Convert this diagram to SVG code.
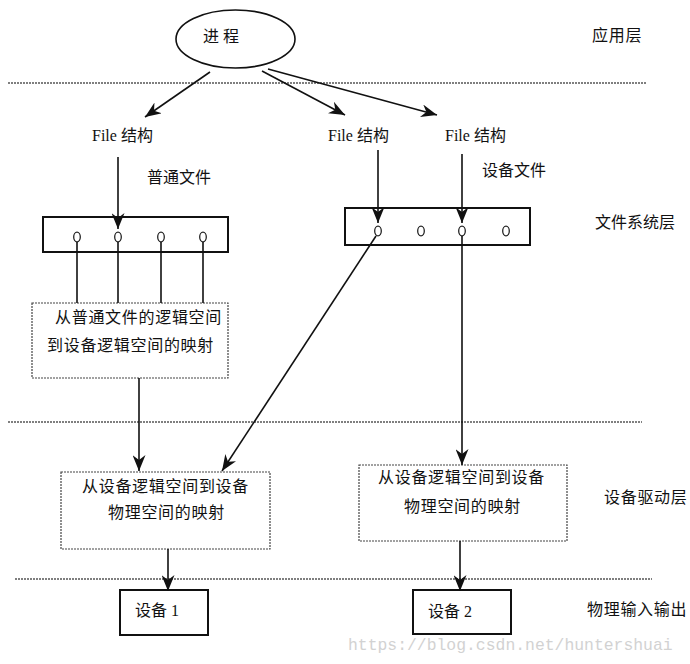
<svg xmlns="http://www.w3.org/2000/svg" width="690" height="664" viewBox="0 0 690 664">
<style>
.t{font-family:"Liberation Serif","Noto Sans CJK SC",serif;font-size:16px;fill:#111}
.bt{font-family:"Liberation Serif","Noto Sans CJK SC",serif;font-size:16px;fill:#111;letter-spacing:0.7px}
.sep{stroke:#555;stroke-width:1.5;stroke-dasharray:2 1;fill:none}
.solid{fill:#fff;stroke:#111;stroke-width:2}
.dot{fill:#fff;stroke:#444;stroke-width:1.2;stroke-dasharray:2 1}
.o{fill:none;stroke:#222;stroke-width:1.3}
.c{stroke:#111;stroke-width:1.6;fill:none}
.ca{stroke:#111;stroke-width:1.6;fill:none;marker-end:url(#ah)}
.wm{font-family:"Liberation Mono",monospace;font-size:16.4px;fill:#d2d2d2}
</style>
<defs>
<marker id="ah" viewBox="0 0 16 13" refX="16" refY="6.5" markerWidth="16" markerHeight="13" markerUnits="userSpaceOnUse" orient="auto">
<path d="M0,0 L16,6.5 L0,13 L5,6.5 z" fill="#111"/>
</marker>
</defs>
<rect width="690" height="664" fill="#fff"/>

<g id="separators">
<line class="sep" x1="8" y1="83" x2="647" y2="83"/>
<line class="sep" x1="8" y1="422" x2="642" y2="422"/>
<line class="sep" x1="15" y1="579" x2="652" y2="579"/>
</g>

<g id="layer-labels">
<text class="bt" x="592" y="41">应用层</text>
<text class="t" x="595" y="228">文件系统层</text>
<text class="bt" x="604" y="503">设备驱动层</text>
<text class="bt" x="587" y="615">物理输入输出</text>
</g>

<g id="process">
<ellipse cx="235.5" cy="39" rx="59.5" ry="29" fill="#fff" stroke="#111" stroke-width="1.6"/>
<text class="t" x="203" y="42">进 程</text>
</g>

<g id="file1"><text class="t" x="92" y="141">File 结构</text></g>
<g id="file2"><text class="t" x="328" y="141">File 结构</text></g>
<g id="file3"><text class="t" x="445" y="141">File 结构</text></g>
<g id="label-normal"><text class="t" x="147" y="183">普通文件</text></g>
<g id="label-device"><text class="t" x="482" y="176">设备文件</text></g>

<g id="table1">
<rect class="solid" x="43" y="217" width="185" height="35"/>
<ellipse class="o" cx="77" cy="237" rx="3.3" ry="4.8"/>
<ellipse class="o" cx="118" cy="237" rx="3.3" ry="4.8"/>
<ellipse class="o" cx="161" cy="237" rx="3.3" ry="4.8"/>
<ellipse class="o" cx="203" cy="237" rx="3.3" ry="4.8"/>
</g>

<g id="table2">
<rect class="solid" x="345" y="208" width="185" height="37"/>
<ellipse class="o" cx="378" cy="231" rx="3.3" ry="4.8"/>
<ellipse class="o" cx="421" cy="231" rx="3.3" ry="4.8"/>
<ellipse class="o" cx="462" cy="231" rx="3.3" ry="4.8"/>
<ellipse class="o" cx="506" cy="231" rx="3.3" ry="4.8"/>
</g>

<g id="map-normal">
<rect class="dot" x="32" y="303" width="196" height="75"/>
<text class="bt" x="55" y="323">从普通文件的逻辑空间</text>
<text class="bt" x="47" y="351">到设备逻辑空间的映射</text>
</g>

<g id="map-dev-left">
<rect class="dot" x="61" y="472" width="209" height="77"/>
<text class="bt" x="82" y="492">从设备逻辑空间到设备</text>
<text class="bt" x="108" y="518">物理空间的映射</text>
</g>

<g id="map-dev-right">
<rect class="dot" x="359" y="465" width="208" height="76"/>
<text class="bt" x="378" y="483">从设备逻辑空间到设备</text>
<text class="bt" x="404" y="512">物理空间的映射</text>
</g>

<g id="device1">
<rect class="solid" x="120" y="590" width="88" height="45"/>
<text class="t" x="135" y="616">设备 1</text>
</g>

<g id="device2">
<rect class="solid" x="413" y="590" width="98" height="44"/>
<text class="t" x="428" y="617">设备 2</text>
</g>

<g id="connectors">
<line class="ca" x1="210" y1="72" x2="145" y2="117"/>
<line class="ca" x1="262" y1="71" x2="345" y2="115"/>
<line class="ca" x1="268" y1="69" x2="437" y2="115"/>
<line class="ca" x1="118" y1="157" x2="118" y2="229"/>
<line class="ca" x1="378" y1="150" x2="378" y2="223"/>
<line class="ca" x1="462" y1="154" x2="462" y2="223"/>
<line class="c" x1="77" y1="242" x2="77" y2="303"/>
<line class="c" x1="118" y1="242" x2="118" y2="303"/>
<line class="c" x1="161" y1="242" x2="161" y2="303"/>
<line class="c" x1="203" y1="242" x2="203" y2="303"/>
<line class="ca" x1="139" y1="378" x2="139" y2="471"/>
<line class="ca" x1="376" y1="236" x2="222" y2="471"/>
<line class="ca" x1="462" y1="236" x2="462" y2="465"/>
<line class="ca" x1="168" y1="549" x2="168" y2="591"/>
<line class="ca" x1="460" y1="541" x2="460" y2="591"/>
</g>

<text class="wm" x="348" y="650">https://blog.csdn.net/huntershuai</text>
</svg>
